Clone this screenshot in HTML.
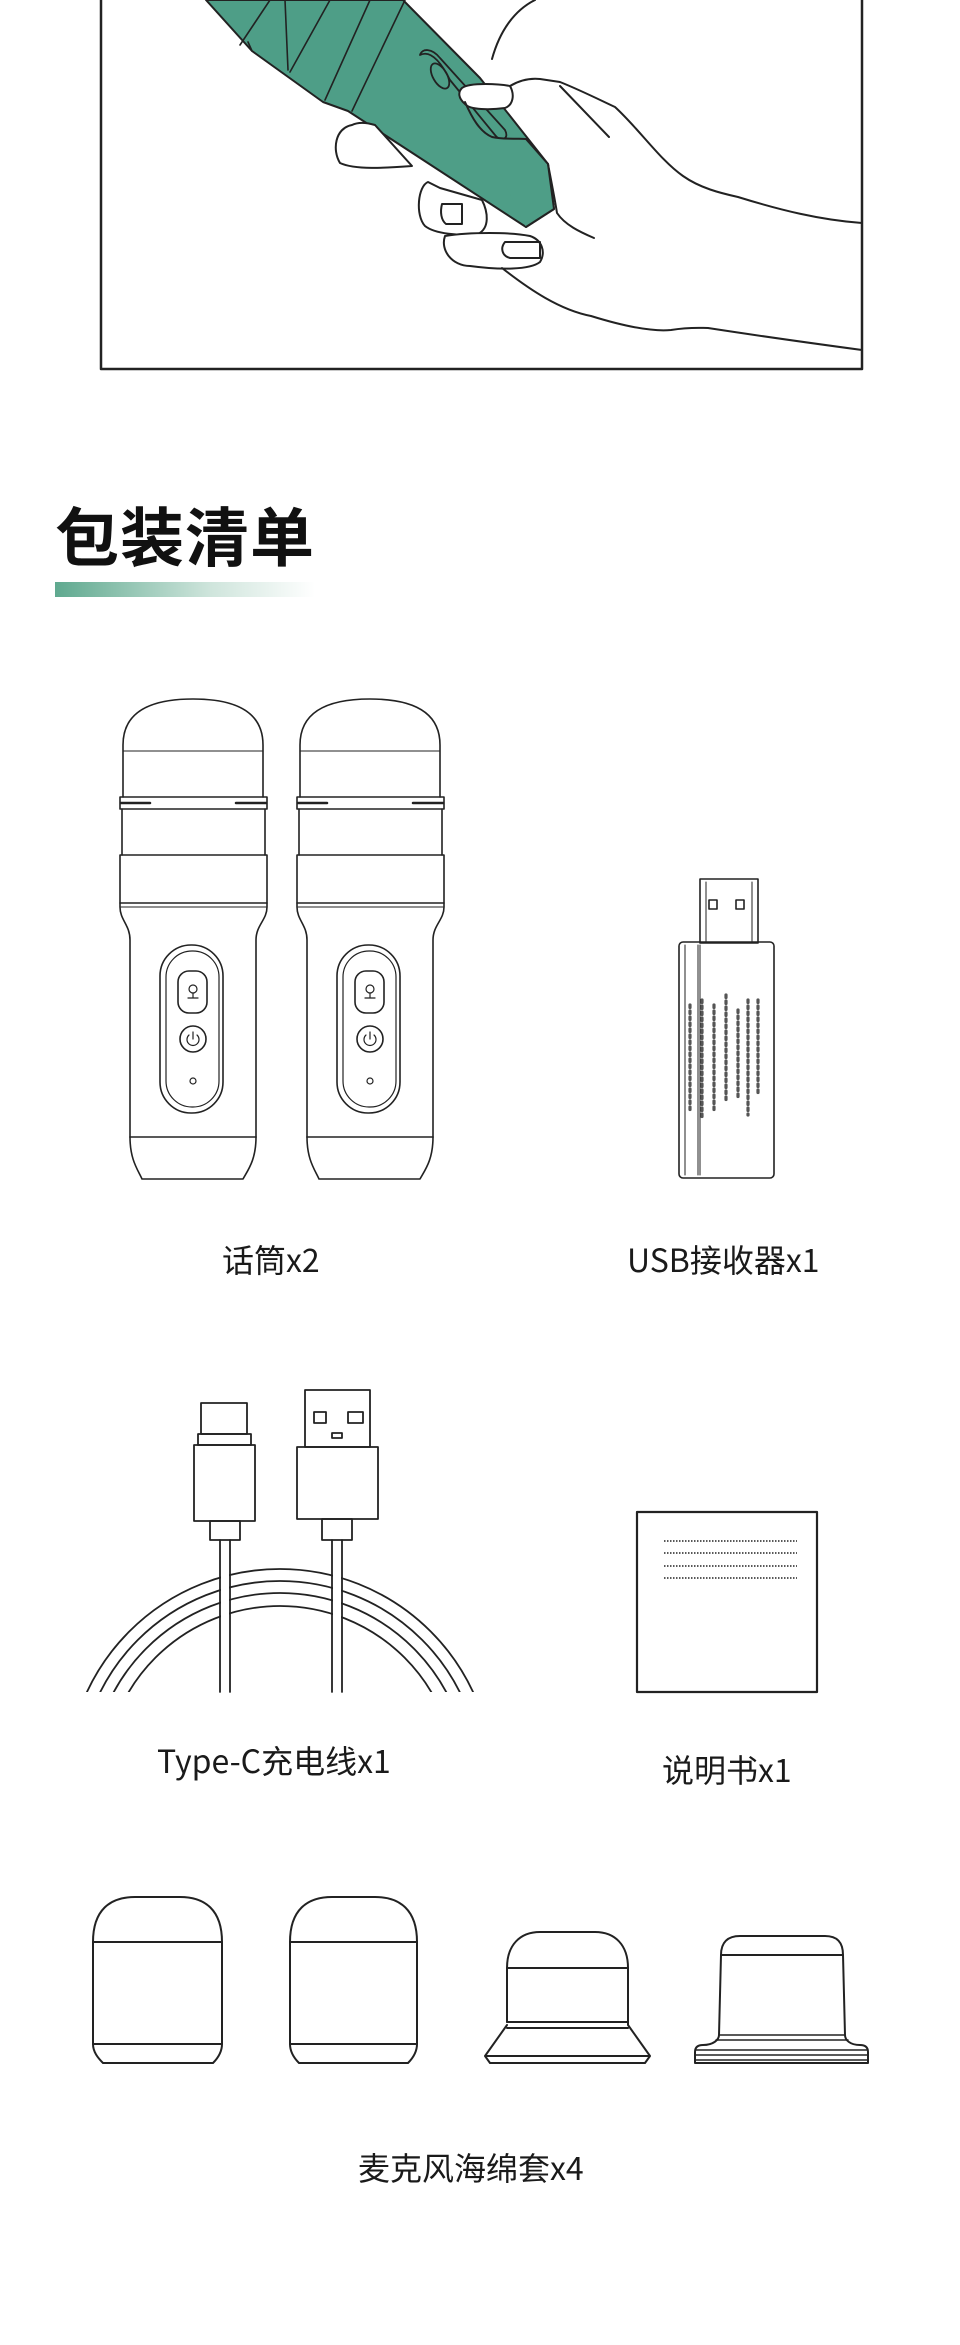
<!DOCTYPE html>
<html><head><meta charset="utf-8">
<style>
html,body{margin:0;padding:0;background:#fff;}
body{width:960px;height:2345px;position:relative;overflow:hidden;font-family:"Liberation Sans","Noto Sans CJK SC",sans-serif;}
svg{position:absolute;left:0;top:0;}
.t{position:absolute;color:#1a1a1a;font-family:"Noto Sans CJK SC","Liberation Sans",sans-serif;white-space:nowrap;}
</style></head><body>
<svg width="960" height="2345" viewBox="0 0 960 2345" fill="none" stroke="#222" stroke-width="2" stroke-linejoin="round" stroke-linecap="round">
<defs>
<linearGradient id="g" x1="0" x2="1"><stop offset="0" stop-color="#5fa98f"/><stop offset="0.6" stop-color="#cfe5dc"/><stop offset="1" stop-color="#fff"/></linearGradient>
<clipPath id="cc"><rect x="0" y="1500" width="960" height="192"/></clipPath>
<g id="mic" stroke-width="1.6">
<path d="M123 797 V745 C123 712 150 699 193 699 C236 699 263 712 263 745 V797"/>
<line x1="123" y1="751" x2="263" y2="751" stroke-width="1"/>
<rect x="120" y="797" width="147" height="12"/>
<line x1="121" y1="803" x2="150" y2="803" stroke-width="2.5"/><line x1="236" y1="803" x2="266" y2="803" stroke-width="2.5"/>
<path d="M122 809 V855 M265 809 V855"/>
<rect x="120" y="855" width="147" height="48"/>
<path d="M120 903 V907 C120 920 130 925 130 940 V1137 M267 903 V907 C267 920 256 925 256 940 V1137"/>
<line x1="121" y1="907" x2="266" y2="907" stroke-width="1"/>
<line x1="130" y1="1137" x2="256" y2="1137"/>
<path d="M130 1137 C130 1160 138 1170 142 1179 H243 C248 1170 256 1160 256 1137"/>
<rect x="160" y="945" width="63" height="168" rx="31"/>
<rect x="166" y="951" width="53" height="156" rx="26" stroke-width="1.2"/>
<rect x="178" y="971" width="29" height="42" rx="11"/>
<circle cx="193" cy="989" r="4" stroke-width="1.2"/><path d="M188 998 H198 M193 993 V998" stroke-width="1.2"/>
<circle cx="193" cy="1039" r="13"/>
<path d="M189 1035 A6 6 0 1 0 197 1035 M193 1032 V1039" stroke-width="1.2"/>
<circle cx="193" cy="1081" r="3" stroke-width="1.2"/>
</g>
</defs>

<path d="M101 0 V369 H862 V0" stroke-width="2.5"/>
<path d="M206 0 L252 51 L323 102 L348 111 L526 227 L554 209 L548 164 L480 78 L403 0 Z" fill="#4e9e87" stroke-width="2"/>
<path d="M252 51 L248 42 M270 0 L240 45 M285 0 L288 70 M330 0 L290 72 M370 0 L325 100 M405 0 L352 111" stroke-width="1.6"/>
<path d="M420 55 C430 50 440 60 450 80 L495 135 C500 142 510 140 505 130 L440 58 C432 48 422 48 420 55 Z" fill="#4e9e87" stroke-width="1.8"/>
<ellipse cx="440" cy="76" rx="7" ry="14" transform="rotate(-30 440 76)" stroke-width="1.8"/>
<path d="M492 59 C500 30 515 10 535 0"/>
<path d="M462 88 C470 82 500 84 510 86 C515 95 513 105 505 108 C490 110 470 110 465 104 C458 98 458 92 462 88 Z" fill="#fff"/>
<path d="M510 86 C520 80 530 78 540 79 L560 82 C580 90 600 100 615 107 C640 130 660 160 683 176 C700 188 720 193 738 197 C780 210 820 220 862 223"/>
<path d="M560 86 L609 137"/>
<path d="M465 102 C472 118 480 132 492 137 C505 140 520 138 526 139 L548 164 L554 209 L526 227" fill="#4e9e87"/>
<path d="M548 164 C552 185 555 200 557 213 C565 225 580 232 594 238"/>
<path d="M352 125 C335 128 332 150 340 163 C355 170 385 168 412 166 L375 125 C365 122 358 122 352 125 Z" fill="#fff"/>
<path d="M428 182 C418 186 415 215 425 226 C435 234 460 236 478 234 C490 228 488 212 482 200 L440 188 Z" fill="#fff"/>
<path d="M442 204 C440 212 441 220 446 224 H462 V204 Z"/>
<path d="M445 236 C440 250 452 266 470 266 C500 270 530 270 540 262 C546 252 542 240 530 236 C510 232 470 232 445 236 Z" fill="#fff"/>
<path d="M505 242 C500 248 502 256 510 258 H540 V242 Z"/>
<path d="M502 268 C530 290 560 310 591 316 C620 325 650 332 671 330 C690 327 700 328 708 328 C760 336 810 343 862 350"/>

<rect x="55" y="582" width="260" height="15" fill="url(#g)" stroke="none"/>

<use href="#mic"/>
<use href="#mic" x="177"/>

<g stroke-width="1.6">
<rect x="700" y="879" width="58" height="64"/>
<line x1="706" y1="882" x2="706" y2="943" stroke-width="1"/><line x1="752" y1="882" x2="752" y2="943" stroke-width="1"/>
<rect x="709" y="900" width="8" height="9"/><rect x="736" y="900" width="8" height="9"/>
<rect x="679" y="942" width="95" height="236" rx="4"/>
<path d="M685 945 V1175 M698 945 V1175 M700 945 V1175" stroke-width="1"/>
<path d="M690 1005 V1110 M702 1000 V1120 M714 1005 V1110 M726 995 V1100 M738 1010 V1100 M748 1000 V1115 M758 1000 V1095" stroke-dasharray="2.5 3.5" stroke-width="3.2" stroke="#555"/>
</g>

<g stroke-width="1.8">
<g clip-path="url(#cc)">
<circle cx="280" cy="1782" r="213"/><circle cx="280" cy="1782" r="201"/><circle cx="280" cy="1782" r="189"/><circle cx="280" cy="1782" r="176"/>
</g>
<path d="M220 1540 V1692 M230 1540 V1692" />
<rect x="221" y="1540" width="8" height="152" fill="#fff" stroke="none"/>
<path d="M332 1540 V1692 M342 1540 V1692" />
<rect x="333" y="1540" width="8" height="152" fill="#fff" stroke="none"/>
<rect x="201" y="1403" width="46" height="31"/>
<rect x="198" y="1434" width="53" height="11"/>
<rect x="194" y="1445" width="61" height="76"/>
<rect x="210" y="1521" width="30" height="19"/>
<rect x="305" y="1390" width="65" height="57"/>
<rect x="314" y="1412" width="12" height="11"/><rect x="348" y="1412" width="15" height="11"/><rect x="332" y="1433" width="10" height="5"/>
<rect x="297" y="1447" width="81" height="72"/>
<rect x="322" y="1519" width="30" height="21"/>
</g>

<rect x="637" y="1512" width="180" height="180" stroke-width="2.2"/>
<g stroke-dasharray="1.5 1.5" stroke-width="1.5" stroke-linecap="butt">
<line x1="664" y1="1541" x2="797" y2="1541"/><line x1="664" y1="1553" x2="797" y2="1553"/><line x1="664" y1="1566" x2="797" y2="1566"/><line x1="664" y1="1578" x2="797" y2="1578"/>
</g>

<g stroke-width="2">
<path d="M93 1942 C93 1910 110 1897 135 1897 H180 C205 1897 222 1910 222 1942 V2044 C222 2052 218 2058 213 2063 H103 C98 2058 93 2052 93 2044 Z"/>
<line x1="93" y1="1942" x2="222" y2="1942"/><line x1="93" y1="2044" x2="222" y2="2044"/>
<path d="M290 1942 C290 1910 307 1897 332 1897 H375 C400 1897 417 1910 417 1942 V2044 C417 2052 413 2058 408 2063 H299 C294 2058 290 2052 290 2044 Z"/>
<line x1="290" y1="1942" x2="417" y2="1942"/><line x1="290" y1="2044" x2="417" y2="2044"/>
<path d="M507 2022 V1968 C507 1945 520 1932 540 1932 H595 C615 1932 628 1945 628 1968 V2025 L650 2056 L645 2063 H490 L485 2056 L507 2025"/>
<line x1="507" y1="1968" x2="628" y2="1968"/><line x1="507" y1="2022" x2="628" y2="2022"/><line x1="507" y1="2028" x2="628" y2="2028"/><line x1="486" y1="2056" x2="649" y2="2056"/>
<path d="M721 1955 C721 1942 728 1936 740 1936 H825 C837 1936 843 1942 843 1955 L845 2035 C845 2040 850 2045 860 2045 C866 2045 868 2048 868 2052 V2063 H695 V2052 C695 2048 697 2045 703 2045 C713 2045 719 2040 719 2035 Z"/>
<line x1="721" y1="1955" x2="843" y2="1955"/>
<g stroke-width="1.4"><line x1="719" y1="2035" x2="845" y2="2035"/><line x1="716" y1="2040" x2="848" y2="2040"/><line x1="696" y1="2050" x2="867" y2="2050"/><line x1="696" y1="2055" x2="867" y2="2055"/><line x1="696" y1="2060" x2="867" y2="2060"/></g>
</g>
</svg>

<div class="t" style="left:55px;top:488px;font-size:64px;font-weight:bold;letter-spacing:1px;color:#111;">包装清单</div>
<div class="t" style="left:222px;top:1236px;font-size:32px;">话筒x2</div>
<div class="t" style="left:627px;top:1236px;font-size:32px;">USB接收器x1</div>
<div class="t" style="left:157px;top:1737px;font-size:32px;">Type-C充电线x1</div>
<div class="t" style="left:662px;top:1746px;font-size:32px;">说明书x1</div>
<div class="t" style="left:358px;top:2144px;font-size:32px;">麦克风海绵套x4</div>
</body></html>
